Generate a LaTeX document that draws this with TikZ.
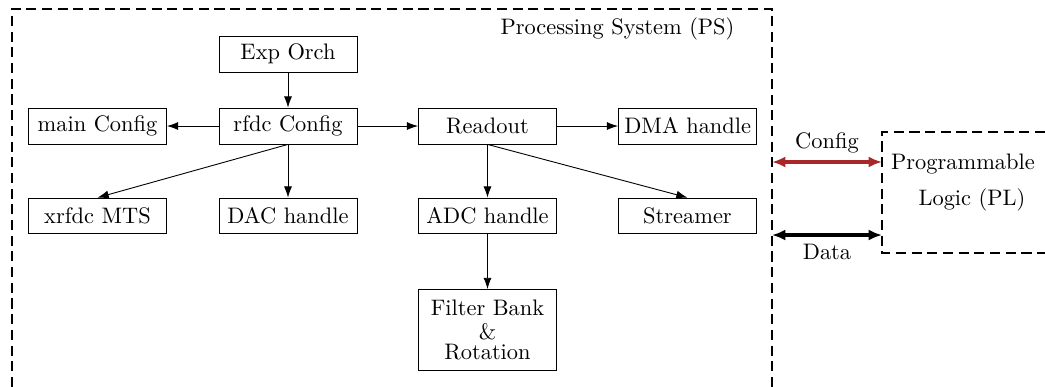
\documentclass[tikz,border=0pt]{standalone}
\usepackage{xcolor}
\usetikzlibrary{arrows.meta}
\definecolor{configred}{RGB}{168,40,42}
\begin{document}
\begin{tikzpicture}[
        block/.style={draw, text width=1.98cm, align=center, minimum height=16pt, inner sep=2.6pt},
        frame/.style={line width=0.8pt, dash pattern=on 4.5pt off 2.5pt},
        link/.style={-{Latex[length=5pt,width=3.6pt]}},
        bus/.style={{Latex[length=6pt,width=5pt]}-{Latex[length=6pt,width=5pt]}, line width=1.6pt}
    ]
        \useasboundingbox (0,0) rectangle (16.386,6.068);
    %Frames
        \draw[frame] (0.19,0) -- (0.19,5.93) -- (12.105,5.93) -- (12.105,0);
        \draw[frame] (16.386,4.0) -- (13.83,4.0) -- (13.83,2.1) -- (16.386,2.1);
        \node[anchor=east] (ps) at (11.64,5.61) {Processing System (PS)};
        \node (pltop) at (15.10,3.49) {Programmable};
        \node (plbot) at (15.24,2.93) {Logic (PL)};
    %Blocks
        \node[block] (exp) at (4.516,5.221) {Exp Orch};
        \node[block] (main) at (1.529,4.092) {main Config};
        \node[block] (rfdc) at (4.516,4.092) {rfdc Config};
        \node[block] (readout) at (7.644,4.092) {Readout};
        \node[block] (dma) at (10.780,4.092) {\mbox{DMA handle}};
        \node[block] (xrfdc) at (1.529,2.681) {xrfdc MTS};
        \node[block] (dac) at (4.516,2.681) {\mbox{DAC handle}};
        \node[block] (adc) at (7.644,2.681) {\mbox{ADC handle}};
        \node[block] (streamer) at (10.780,2.681) {Streamer};
        \node[block, minimum height=1.27cm] (filter) at (7.644,0.894) {Filter Bank\\[-1pt] \&\\[-3pt] Rotation};
    %Arrows
        \draw[link] (exp) -- (rfdc);
        \draw[link] (rfdc) -- (main);
        \draw[link] (rfdc) -- (readout);
        \draw[link] (readout) -- (dma);
        \draw[link] (rfdc.south) -- (xrfdc.north);
        \draw[link] (rfdc.south) -- (dac.north);
        \draw[link] (readout.south) -- (adc.north);
        \draw[link] (readout.south) -- (streamer.north);
        \draw[link] (adc) -- (filter);
    %Buses
        \coordinate (psconfig) at (12.105,3.528);
        \coordinate (plconfig) at (13.83,3.528);
        \coordinate (psdata) at (12.105,2.383);
        \coordinate (pldata) at (13.83,2.383);
        \draw[bus, configred] (psconfig) -- (plconfig) node[above, midway, black] {Config};
        \draw[bus] (psdata) -- (pldata) node[below, midway] {Data};
    \end{tikzpicture}
\end{document}
